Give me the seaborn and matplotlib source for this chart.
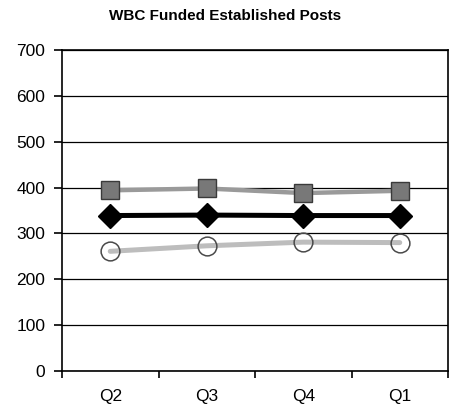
import matplotlib
matplotlib.use("Agg")
import matplotlib.pyplot as plt
import seaborn as sns
import pandas as pd

quarters = ["Q2", "Q3", "Q4", "Q1"]
series_a = [394, 398, 388, 393]   # grey squares
series_b = [339, 340, 339, 339]   # black diamonds
series_c = [261, 273, 281, 280]   # light circles
y_ticks = [0, 100, 200, 300, 400, 500, 600, 700]

sns.set_theme(style="white")
plt.rcParams['font.family'] = ['Liberation Sans', 'DejaVu Sans']
plt.rcParams['text.color'] = 'black'
plt.rcParams['xtick.color'] = 'black'
plt.rcParams['ytick.color'] = 'black'

fig = plt.figure(figsize=(4.51, 4.09), dpi=100)
ax = fig.add_axes([62/451, 1-371/409, (448-62)/451, (371-50)/409])

df = pd.DataFrame({
    "quarter": quarters * 3,
    "value": series_a + series_b + series_c,
    "series": ["A"] * 4 + ["B"] * 4 + ["C"] * 4,
})

styles = {
    "A": dict(color="#9a9a9a", lw=3.2, marker="s", ms=12.5, mfc="#787878", mec="#3a3a3a", mew=1.0),
    "B": dict(color="#000000", lw=3.6, marker="D", ms=12, mfc="#000000", mec="#000000", mew=1.0),
    "C": dict(color="#bdbdbd", lw=3.6, marker="o", ms=13.5, mfc="none", mec="#4a4a4a", mew=1.1),
}
for name, st in styles.items():
    sub = df[df["series"] == name]
    sns.lineplot(data=sub, x="quarter", y="value", ax=ax, sort=False,
                 color=st["color"], linewidth=st["lw"], marker=st["marker"],
                 markersize=st["ms"], markerfacecolor=st["mfc"],
                 markeredgecolor=st["mec"], markeredgewidth=st["mew"],
                 legend=False, zorder=3)

ax.set_xlim(-0.5, 3.5)
ax.set_ylim(0, 700)
ax.set_yticks(y_ticks)
ax.set_yticklabels([str(v) for v in y_ticks], fontsize=12.5)
ax.set_xticks(range(len(quarters)))
ax.set_xticklabels(quarters, fontsize=12.5)
ax.set_xticks([-0.5, 0.5, 1.5, 2.5, 3.5], minor=True)
ax.tick_params(axis="x", which="major", length=0, pad=13)
ax.tick_params(axis="x", which="minor", length=5, width=1.2, color="black", direction="out", bottom=True)
ax.tick_params(axis="y", length=6, width=1.2, color="black", direction="out", left=True, pad=6)
ax.set_xlabel("")
ax.set_ylabel("")
ax.grid(axis="y", color="black", linewidth=0.9)
ax.grid(axis="x", visible=False)
for sp in ax.spines.values():
    sp.set_visible(True)
    sp.set_color("black")
    sp.set_linewidth(1.2)

fig.text(0.5, 1-16/409, "WBC Funded Established Posts", ha="center", va="center",
         fontsize=11, fontweight="bold", color="black")

fig.savefig("out.png", dpi=100)
